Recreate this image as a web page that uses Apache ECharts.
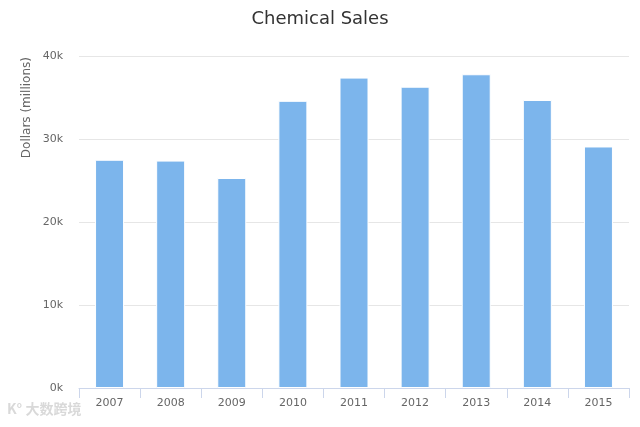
<!DOCTYPE html>
<html>
<head>
<meta charset="utf-8">
<script src="https://cdn.jsdelivr.net/npm/echarts@6/dist/echarts.min.js"></script>
<style>
html,body{margin:0;padding:0;background:#fff;}
#chart{width:640px;height:427px;}
</style>
</head>
<body>
<div id="chart"></div>
<script>
const years = ['2007','2008','2009','2010','2011','2012','2013','2014','2015'];
const sales = [27500, 27400, 25300, 34600, 37400, 36300, 37800, 34700, 29100];
const yTicks = [0, 10000, 20000, 30000, 40000];

const FONT = '"DejaVu Sans", "Lucida Grande", sans-serif';
const chart = echarts.init(document.getElementById('chart'), null, {renderer: 'canvas'});
chart.setOption({
  animation: false,
  backgroundColor: '#ffffff',
  title: {
    text: 'Chemical Sales',
    left: 'center',
    top: 5,
    textStyle: {fontFamily: FONT, fontSize: 18, fontWeight: 'normal', color: '#333333'}
  },
  graphic: [{
    type: 'text',
    left: 7,
    top: 402,
    style: {text: 'K° 大数跨境', fill: '#d9d9d9', font: 'bold 14px "Noto Sans CJK SC", sans-serif'}
  }, {
    type: 'text',
    x: 27,
    y: 57,
    rotation: Math.PI / 2,
    style: {
      text: 'Dollars (millions)',
      fill: '#666666',
      font: '12px "DejaVu Sans", sans-serif',
      align: 'right',
      verticalAlign: 'middle'
    }
  }],
  grid: {left: 79, right: 11, top: 56, bottom: 39, containLabel: false},
  xAxis: {
    type: 'category',
    data: years,
    boundaryGap: true,
    axisLine: {lineStyle: {color: '#ccd6eb', width: 1}},
    axisTick: {show: true, alignWithLabel: false, length: 10, lineStyle: {color: '#ccd6eb'}},
    axisLabel: {fontFamily: FONT, fontSize: 11, color: '#666666', margin: 10},
    splitLine: {show: false}
  },
  yAxis: {
    type: 'value',
    min: yTicks[0],
    max: yTicks[yTicks.length - 1],
    interval: 10000,
    axisLine: {show: false},
    axisTick: {show: false},
    axisLabel: {
      fontFamily: FONT, fontSize: 11, color: '#666666', margin: 16,
      formatter: v => (v / 1000) + 'k'
    },
    splitLine: {lineStyle: {color: '#e6e6e6', width: 1}}
  },
  series: [{
    type: 'bar',
    data: sales,
    barWidth: 29,
    itemStyle: {color: '#7cb5ec', borderColor: '#ffffff', borderWidth: 1}
  }]
});
</script>
</body>
</html>
